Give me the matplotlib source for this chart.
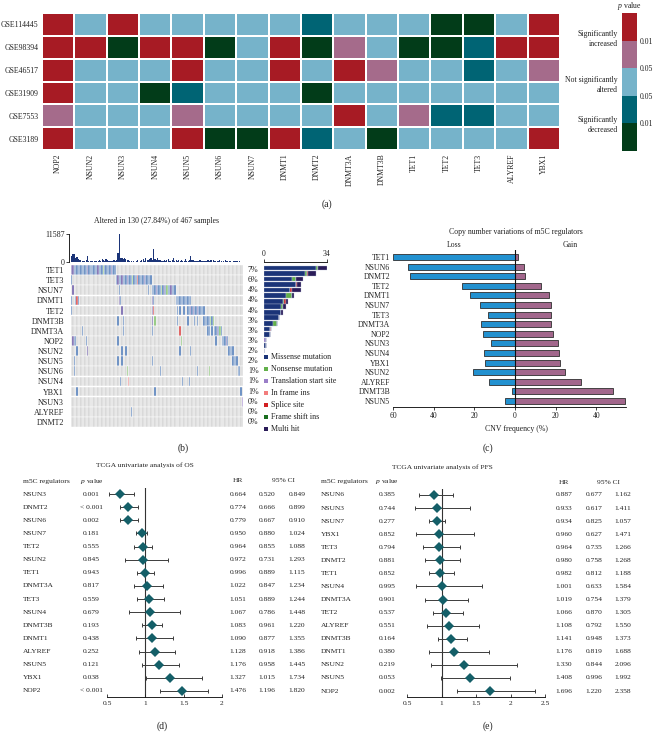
import numpy as np
import matplotlib
matplotlib.use("Agg")
import matplotlib.pyplot as plt
from matplotlib.colors import ListedColormap
import matplotlib.transforms as mtransforms

plt.rcParams['font.family'] = ['Liberation Serif', 'DejaVu Serif']
plt.rcParams['mathtext.fontset'] = 'custom'
plt.rcParams['mathtext.it'] = 'Liberation Serif:italic'
plt.rcParams['mathtext.rm'] = 'Liberation Serif'
plt.rcParams['axes.linewidth'] = 0.6
plt.rcParams['text.color'] = '#222222'
plt.rcParams['xtick.color'] = '#222222'
plt.rcParams['ytick.color'] = '#222222'

# ---------------- (a) heatmap data ----------------
heat_datasets = ["GSE114445", "GSE98394", "GSE46517", "GSE31909", "GSE7553", "GSE3189"]
heat_genes = ["NOP2", "NSUN2", "NSUN3", "NSUN4", "NSUN5", "NSUN6", "NSUN7", "DNMT1",
              "DNMT2", "DNMT3A", "DNMT3B", "TET1", "TET2", "TET3", "ALYREF", "YBX1"]
# 4 = significantly increased (p<0.01), 3 = increased (0.01-0.05), 2 = not significant,
# 1 = decreased (0.01-0.05), 0 = significantly decreased (p<0.01)
heat_status = [
    [4, 2, 4, 2, 2, 2, 2, 2, 1, 2, 2, 2, 0, 0, 2, 4],
    [4, 4, 0, 4, 4, 0, 2, 4, 0, 3, 2, 0, 0, 1, 4, 4],
    [4, 2, 2, 2, 4, 2, 2, 4, 2, 4, 3, 2, 2, 1, 2, 3],
    [4, 2, 2, 0, 1, 2, 2, 2, 0, 2, 2, 2, 2, 2, 2, 2],
    [3, 2, 2, 2, 3, 2, 2, 2, 2, 4, 2, 3, 1, 1, 2, 2],
    [4, 2, 2, 2, 4, 0, 0, 4, 1, 2, 0, 2, 2, 2, 2, 4],
]
heat_colors = ["#023c19", "#006474", "#76b3ca", "#a56b8b", "#a71b24"]
cbar_ticklabels = ["0.01", "0.05", "0.05", "0.01"]

# ---------------- (b) oncoplot data ----------------
onco_title = "Altered in 130 (27.84%) of 467 samples"
n_samples = 130
n_cohort = 467
tmb_counts = [
    2600, 3500, 3300, 1800, 2200, 1400, 900, 700, 500, 600,
    400, 700, 2500, 500, 300, 400, 350, 300, 500, 250,
    600, 800, 450, 1100, 700, 500, 1200, 900, 600, 400,
    300, 500, 700, 400, 900, 3900, 11587, 1500, 1800, 1300,
    1500, 1200, 1000, 700, 400, 300, 200, 300, 150, 250,
    800, 200, 300, 900, 1200, 600, 1500, 700, 1000, 1400,
    1600, 900, 5200, 1300, 800, 1700, 700, 900, 400, 600,
    1000, 500, 700, 1300, 500, 400, 900, 1600, 600, 700,
    300, 1000, 500, 700, 400, 300, 1400, 600, 500, 700,
    2300, 900, 700, 600, 400, 500, 300, 700, 600, 400,
    500, 600, 300, 800, 600, 900, 900, 700, 400, 500,
    600, 300, 700, 400, 200, 500, 700, 300, 400, 500,
    300, 200, 400, 300, 500, 300, 200, 300, 200, 100,
]
onco_genes = ["TET1", "TET3", "NSUN7", "DNMT1", "TET2", "DNMT3B", "DNMT3A", "NOP2",
              "NSUN2", "NSUN5", "NSUN6", "NSUN4", "YBX1", "NSUN3", "ALYREF", "DNMT2"]
# mutated sample indices per gene and mutation type codes
onco_samples = [
    [0, 1, 2, 3, 4, 5, 6, 7, 8, 9, 10, 11, 12, 13, 14, 15, 16, 17, 18, 19, 20, 21, 22, 23,
     24, 25, 26, 27, 28, 29, 30, 31, 32, 33],
    [0, 34, 35, 36, 37, 38, 39, 40, 41, 42, 43, 44, 45, 46, 47, 48, 49, 50, 51, 52, 53, 54,
     55, 56, 57, 58, 59, 60],
    [1, 36, 58, 61, 62, 63, 64, 65, 66, 67, 68, 69, 70, 71, 72, 73, 74, 75, 76, 77, 78],
    [0, 3, 4, 5, 36, 37, 61, 62, 79, 80, 81, 82, 83, 84, 85, 86, 87, 88, 89, 90],
    [0, 38, 61, 62, 80, 82, 85, 88, 89, 90, 91, 92, 93, 94, 95, 96, 97, 98, 99, 100],
    [35, 39, 61, 63, 80, 88, 93, 95, 100, 101, 102, 103, 104, 105, 106, 107],
    [8, 39, 61, 82, 103, 104, 106, 108, 109, 110, 111, 112, 113],
    [1, 2, 3, 11, 35, 83, 109, 114, 115, 116, 117, 118],
    [4, 12, 38, 41, 82, 90, 119, 120, 121, 122],
    [2, 35, 38, 61, 122, 123, 124, 125],
    [2, 42, 67, 95, 104, 126, 127],
    [37, 43, 84, 89],
    [4, 63, 128],
    [129],
    [45],
    [],
]
onco_codes = [
    "HHMMMMMMMMMMHMMMMMMMHMMMNMMMMMHMMM",
    "MMHMMHMMMHMMMNMMMSMMMMHMMMMM",
    "HMMMMMHMMMNMHMNMMHMMM",
    "MMSMHMHMMMMMMMMMMMMM",
    "MHHSMMMMMHMHMMHMMMMM",
    "MMHNMMMMMMMMMNMN",
    "MMMSMMMMMHMNM",
    "HMMMMNMMMMHM",
    "MHMMMMMMMM",
    "MMMMMMMM",
    "MNMMNMM",
    "MIMM",
    "MMM",
    "T",
    "M",
    "",
]
mut_types = ["M", "N", "T", "I", "S", "F", "H"]
mut_labels = ["Missense mutation", "Nonsense mutation", "Translation start site",
              "In frame ins", "Splice site", "Frame shift ins", "Multi hit"]
mut_colors = {"M": "#1b3478", "N": "#62b04a", "T": "#9a7ec8", "I": "#f27d7d",
              "S": "#d21f22", "F": "#1a6e1f", "H": "#2a1b58"}
mat_colors = {"M": "#4d78b6", "N": "#7fbf6a", "T": "#a58ccf", "I": "#f08a8a",
              "S": "#d9403f", "F": "#3b8a3f", "H": "#6a58a6"}

# ---------------- (c) CNV data ----------------
cnv_genes = ["TET1", "NSUN6", "DNMT2", "TET2", "DNMT1", "NSUN7", "TET3", "DNMT3A",
             "NOP2", "NSUN3", "NSUN4", "YBX1", "NSUN2", "ALYREF", "DNMT3B", "NSUN5"]
cnv_loss = [60.0, 52.6, 51.8, 25.9, 22.0, 17.4, 13.3, 16.9, 15.7, 12.0, 15.2, 14.9,
            20.7, 13.0, 1.3, 5.1]
cnv_gain = [1.5, 4.3, 5.1, 12.5, 16.6, 17.4, 17.7, 17.7, 18.4, 21.3, 21.6, 22.0,
            24.4, 32.6, 48.2, 53.9]

# ---------------- (d) OS forest data ----------------
os_genes = ["NSUN3", "DNMT2", "NSUN6", "NSUN7", "TET2", "NSUN2", "TET1", "DNMT3A",
            "TET3", "NSUN4", "DNMT3B", "DNMT1", "ALYREF", "NSUN5", "YBX1", "NOP2"]
os_p = ["0.001", "< 0.001", "0.002", "0.181", "0.555", "0.845", "0.943", "0.817",
        "0.559", "0.679", "0.193", "0.438", "0.252", "0.121", "0.038", "< 0.001"]
os_hr = [0.664, 0.774, 0.779, 0.950, 0.964, 0.972, 0.996, 1.022, 1.051, 1.067, 1.083,
         1.090, 1.128, 1.176, 1.327, 1.476]
os_lo = [0.520, 0.666, 0.667, 0.880, 0.855, 0.731, 0.889, 0.847, 0.889, 0.786, 0.961,
         0.877, 0.918, 0.958, 1.015, 1.196]
os_hi = [0.849, 0.899, 0.910, 1.024, 1.088, 1.293, 1.115, 1.234, 1.244, 1.448, 1.220,
         1.355, 1.386, 1.445, 1.734, 1.820]

# ---------------- (e) PFS forest data ----------------
pfs_genes = ["NSUN6", "NSUN3", "NSUN7", "YBX1", "TET3", "DNMT2", "TET1", "NSUN4",
             "DNMT3A", "TET2", "ALYREF", "DNMT3B", "DNMT1", "NSUN2", "NSUN5", "NOP2"]
pfs_p = ["0.385", "0.744", "0.277", "0.852", "0.794", "0.881", "0.852", "0.995",
         "0.901", "0.537", "0.551", "0.164", "0.380", "0.219", "0.053", "0.002"]
pfs_hr = [0.887, 0.933, 0.934, 0.960, 0.964, 0.980, 0.982, 1.001, 1.019, 1.066, 1.108,
          1.141, 1.176, 1.330, 1.408, 1.696]
pfs_lo = [0.677, 0.617, 0.825, 0.627, 0.735, 0.758, 0.812, 0.633, 0.754, 0.870, 0.792,
          0.948, 0.819, 0.844, 0.996, 1.220]
pfs_hi = [1.162, 1.411, 1.057, 1.471, 1.266, 1.268, 1.188, 1.584, 1.379, 1.305, 1.550,
          1.373, 1.688, 2.096, 1.992, 2.358]

# =====================================================================
W, H = 654, 732
fig = plt.figure(figsize=(W / 100, H / 100), dpi=100)
FS = 5.6


def px_axes(x0, y0, x1, y1):
    return fig.add_axes([x0 / W, 1 - y1 / H, (x1 - x0) / W, (y1 - y0) / H])


def ftext(x, y, s, **kw):
    kw.setdefault('fontsize', FS)
    return fig.text(x / W, 1 - y / H, s, **kw)


# ---------------- (a) ----------------
ax = px_axes(42, 13, 560, 150)
ax.pcolormesh(np.array(heat_status), cmap=ListedColormap(heat_colors), vmin=-0.5, vmax=4.5,
              edgecolors='white', linewidth=1.3)
ax.set_xlim(0, len(heat_genes))
ax.set_ylim(len(heat_datasets), 0)
ax.set_xticks(np.arange(len(heat_genes)) + 0.5)
ax.set_xticklabels(heat_genes, rotation=90, fontsize=FS)
ax.set_yticks(np.arange(len(heat_datasets)) + 0.5)
ax.set_yticklabels(heat_datasets, fontsize=FS)
ax.tick_params(length=0, pad=2.5)
for s in ax.spines.values():
    s.set_visible(False)

axc = px_axes(622, 13, 637, 151)
axc.pcolormesh(np.arange(2), np.arange(len(heat_colors) + 1), np.arange(len(heat_colors)).reshape(-1, 1),
               cmap=ListedColormap(heat_colors), vmin=-0.5, vmax=4.5)
axc.set_xlim(0, 1)
axc.set_ylim(0, len(heat_colors))
axc.set_xticks([])
axc.yaxis.tick_right()
axc.set_yticks([1, 2, 3, 4])
axc.set_yticklabels(cbar_ticklabels, fontsize=FS)
axc.tick_params(axis='y', length=0, pad=2)
for s in axc.spines.values():
    s.set_visible(False)
ftext(629, 6, "$p$ value", ha='center', va='center')
ftext(618, 39, "Significantly\nincreased", ha='right', va='center', linespacing=1.25)
ftext(618, 85, "Not significantly\naltered", ha='right', va='center', linespacing=1.25)
ftext(618, 125, "Significantly\ndecreased", ha='right', va='center', linespacing=1.25)
ftext(327, 204, "(a)", ha='center', va='center', fontsize=7)

# ---------------- (b) ----------------
ftext(157, 221, onco_title, ha='center', va='center')
ax_t = px_axes(71, 234, 243, 262)
for s in ['top', 'right', 'bottom']:
    ax_t.spines[s].set_visible(False)
ax_t.spines['left'].set_position(('outward', 1.5))
ax_t.bar(np.arange(n_samples), tmb_counts, width=0.85, color=mut_colors['M'], linewidth=0)
ax_t.set_xlim(-0.5, n_samples - 0.5)
ax_t.set_ylim(0, max(tmb_counts))
ax_t.set_yticks([0, max(tmb_counts)])
ax_t.set_yticklabels(['0', str(max(tmb_counts))], fontsize=FS + 0.2)
ax_t.set_xticks([])
ax_t.tick_params(axis='y', length=2, width=0.6, pad=1, labelsize=FS + 0.2)

ax_m = px_axes(71, 265, 243, 427)
xs = np.arange(n_samples)
for gi in range(len(onco_genes)):
    ax_m.bar(xs, 0.96, bottom=gi - 0.48, width=1.0, color='#d0d0d0',
             edgecolor='white', linewidth=0.3)
    if onco_samples[gi]:
        ax_m.bar(onco_samples[gi], 0.96, bottom=gi - 0.48, width=1.0,
                 color=[mat_colors[c] for c in onco_codes[gi]], edgecolor='white', linewidth=0.3)
ax_m.set_xlim(-0.5, n_samples - 0.5)
ax_m.set_ylim(len(onco_genes) - 0.5, -0.5)
ax_m.set_xticks([])
ax_m.set_yticks(np.arange(len(onco_genes)))
ax_m.set_yticklabels(onco_genes, fontsize=FS + 0.2)
ax_m.tick_params(axis='y', length=0, pad=5)
for s in ax_m.spines.values():
    s.set_visible(False)
btr = mtransforms.blended_transform_factory(fig.transFigure, ax_m.transData)
for gi in range(len(onco_genes)):
    pct = round(len(onco_samples[gi]) / n_cohort * 100)
    ax_m.text(248 / W, gi, f"{pct}%", transform=btr, va='center', ha='left', fontsize=FS + 0.2)

counts = np.array([[codes.count(t) for t in mut_types] for codes in onco_codes])
ax_r = px_axes(264, 262, 327, 355)
left = np.zeros(len(onco_genes))
for ti, t in enumerate(mut_types):
    ax_r.barh(np.arange(len(onco_genes)), counts[:, ti], left=left, height=0.85,
              color=mut_colors[t], edgecolor='#b5bdd3', linewidth=0.25)
    left += counts[:, ti]
ax_r.set_xlim(0, 34)
ax_r.set_ylim(15.72, -1.08)
ax_r.xaxis.tick_top()
ax_r.set_xticks([0, 34])
ax_r.set_xticklabels(['0', '34'], fontsize=FS)
ax_r.set_yticks([])
ax_r.tick_params(axis='x', length=2, width=0.6, pad=1)
for s in ['bottom', 'left', 'right']:
    ax_r.spines[s].set_visible(False)

ax_l = px_axes(262, 350, 362, 436)
ax_l.axis('off')
ax_l.set_xlim(262, 362)
ax_l.set_ylim(436, 350)
for i, (t, lab) in enumerate(zip(mut_types, mut_labels)):
    y = 357 + i * 12
    ax_l.scatter([266], [y], marker='s', s=5, color=mut_colors[t], linewidths=0)
    ax_l.text(271, y, lab, va='center', ha='left', fontsize=FS + 0.2)
ftext(183, 448, "(b)", ha='center', va='center', fontsize=7)

# ---------------- (c) ----------------
ftext(516, 232, "Copy number variations of m5C regulators", ha='center', va='center')
ftext(454, 245, "Loss", ha='center', va='center')
ftext(570, 245, "Gain", ha='center', va='center')
ax_c = px_axes(393, 250, 626, 407)
yy = np.arange(len(cnv_genes))
ax_c.barh(yy, -np.array(cnv_loss), height=0.62, color='#2291d0', edgecolor='#2f2f2f', linewidth=0.6)
ax_c.barh(yy, cnv_gain, height=0.62, color='#a2678c', edgecolor='#2f2f2f', linewidth=0.6)
ax_c.axvline(0, color='#111111', lw=0.8)
ax_c.set_xlim(-60, 54.5)
ax_c.set_ylim(15.63, -0.73)
ax_c.set_yticks(yy)
ax_c.set_yticklabels(cnv_genes, fontsize=FS)
ax_c.tick_params(axis='y', length=0, pad=2)
ax_c.set_xticks([-60, -40, -20, 0, 20, 40])
ax_c.set_xticklabels(['60', '40', '20', '0', '20', '40'], fontsize=FS)
ax_c.tick_params(axis='x', length=2, width=0.6, pad=1.5)
for s in ['top', 'right', 'left']:
    ax_c.spines[s].set_visible(False)
ftext(516, 429, "CNV frequency (%)", ha='center', va='center')
ftext(488, 448, "(c)", ha='center', va='center', fontsize=7)


# ---------------- forest plots ----------------
def forest(ax_px, row0_px, step_px, xlim, xticks, xticklabels, genes, pv, hr, lo, hi,
           xname, xp, xhr, xlo, xhi, xhdr_ci, header_y, title, title_xy, label, label_xy):
    x0, y0, x1, y1 = ax_px
    axf = px_axes(x0, y0, x1, y1)
    n = len(genes)
    ytop = -(row0_px - y0) / step_px
    ybot = (n - 1) + (y1 - (row0_px + (n - 1) * step_px)) / step_px
    yv = np.arange(n)
    hr_a = np.array(hr)
    axf.errorbar(hr_a, yv, xerr=[hr_a - np.array(lo), np.array(hi) - hr_a], fmt='none',
                 ecolor='#3c3c3c', elinewidth=0.7, capsize=1.6, capthick=0.7)
    axf.plot(hr_a, yv, linestyle='none', marker='D', markersize=5.4, color='#145f68',
             markeredgewidth=0, zorder=4)
    axf.axvline(1, color='#333333', lw=0.8, zorder=1)
    axf.set_xlim(*xlim)
    axf.set_ylim(ybot, ytop)
    axf.set_xticks(xticks)
    axf.set_xticklabels(xticklabels, fontsize=FS - 0.2)
    axf.set_yticks([])
    axf.tick_params(axis='x', length=2.5, width=0.6, direction='in', pad=3)
    for s in ['top', 'right', 'left']:
        axf.spines[s].set_visible(False)
    tr = mtransforms.blended_transform_factory(fig.transFigure, axf.transData)
    fs = FS - 0.2
    for i in range(n):
        axf.text(xname / W, i, genes[i], transform=tr, ha='left', va='center', fontsize=fs)
        axf.text(xp / W, i, pv[i], transform=tr, ha='center', va='center', fontsize=fs)
        axf.text(xhr / W, i, f"{hr[i]:.3f}", transform=tr, ha='center', va='center', fontsize=fs)
        axf.text(xlo / W, i, f"{lo[i]:.3f}", transform=tr, ha='center', va='center', fontsize=fs)
        axf.text(xhi / W, i, f"{hi[i]:.3f}", transform=tr, ha='center', va='center', fontsize=fs)
    ftext(xname, header_y, "m5C regulators", ha='left', va='center', fontsize=fs)
    ftext(xp, header_y, "$p$ value", ha='center', va='center', fontsize=fs)
    ftext(xhr, header_y, "HR", ha='center', va='center', fontsize=fs)
    ftext(xhdr_ci, header_y, "95% CI", ha='center', va='center', fontsize=fs)
    ftext(title_xy[0], title_xy[1], title, ha='center', va='center', fontsize=fs)
    ftext(label_xy[0], label_xy[1], label, ha='center', va='center', fontsize=7)


forest((107, 488, 222, 697), 494, 13.13, (0.5, 2), [0.5, 1, 1.5, 2], ['0.5', '1', '1.5', '2'],
       os_genes, os_p, os_hr, os_lo, os_hi,
       23, 91.5, 238, 267, 297, 283, 481, "TCGA univariate analysis of OS", (145, 465),
       "(d)", (162, 726))
forest((407, 489, 545, 697), 495, 13.07, (0.5, 2.5), [0.5, 1, 1.5, 2, 2.5],
       ['0.5', '1', '1.5', '2', '2.5'],
       pfs_genes, pfs_p, pfs_hr, pfs_lo, pfs_hi,
       321, 387, 564, 594, 623, 608, 482, "TCGA univariate analysis of PFS", (442, 467),
       "(e)", (488, 726))

fig.savefig("out.png", dpi=100)
